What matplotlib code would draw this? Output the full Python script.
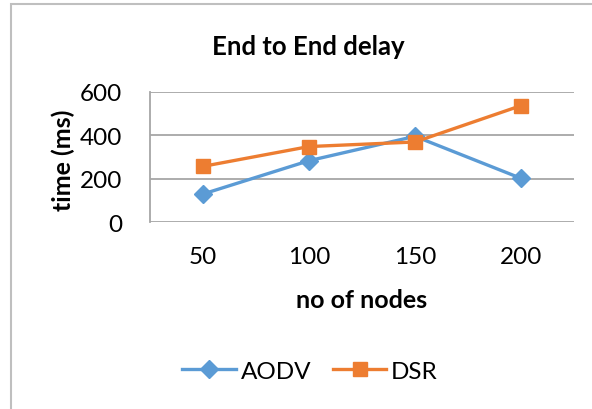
import matplotlib
matplotlib.use("Agg")
import matplotlib.pyplot as plt
from matplotlib.patches import Rectangle

plt.rcParams['font.family'] = ['Lato', 'DejaVu Sans']

nodes = ["50", "100", "150", "200"]
aodv = [130, 283, 395, 202]
dsr = [257, 348, 369, 536]

BLUE = "#5B9BD5"
ORANGE = "#ED7D31"
GRID = "#A6A6A6"

fig = plt.figure(figsize=(5.92, 4.10), dpi=100)
W, H = 592, 410

# chart border (runs off the picture at right and bottom)
fig.patches.append(Rectangle((11 / W, -0.1), 1.2, 1 - 5 / H + 0.1, transform=fig.transFigure,
                             fill=False, edgecolor="#BFBFBF", linewidth=1.5))

ax = fig.add_axes([150 / W, 1 - 223.3 / H, 424 / W, 130.6 / H])
x = range(len(nodes))
ax.plot(x, aodv, color=BLUE, lw=2.4, marker="D", ms=9.5, label="AODV", zorder=3)
ax.plot(x, dsr, color=ORANGE, lw=2.4, marker="s", ms=9.5, label="DSR", zorder=4)

ax.set_xlim(-0.5, 3.5)
ax.set_ylim(0, 600)
ax.set_yticks([0, 200, 400, 600])
ax.set_xticks(list(x))
ax.set_xticklabels(nodes)
ax.grid(axis="y", color=GRID, lw=1.3)
ax.set_axisbelow(True)
for s in ["top", "right", "bottom"]:
    ax.spines[s].set_visible(False)
ax.spines["left"].set_color(GRID)
ax.spines["left"].set_linewidth(1.3)
ax.tick_params(axis="both", length=0, labelsize=17.5, colors="black")
ax.tick_params(axis="x", pad=17)
ax.tick_params(axis="y", pad=20)

fig.text(63 / W, 1 - 160 / H, "time (ms)", rotation=90, ha="center", va="center",
         fontsize=18, fontweight="bold")
fig.text(362 / W, 1 - 301 / H, "no of nodes", ha="center", va="center",
         fontsize=18, fontweight="bold")
fig.text(308 / W, 1 - 47 / H, "End to End delay", ha="center", va="center",
         fontsize=18.5, fontweight="bold")

fig.legend(loc="center", bbox_to_anchor=(310 / W, 1 - 372 / H), ncol=2, frameon=False,
           fontsize=17.5, handlelength=2.2, columnspacing=0.9, handletextpad=0.2)

fig.savefig("out.png", dpi=100)
